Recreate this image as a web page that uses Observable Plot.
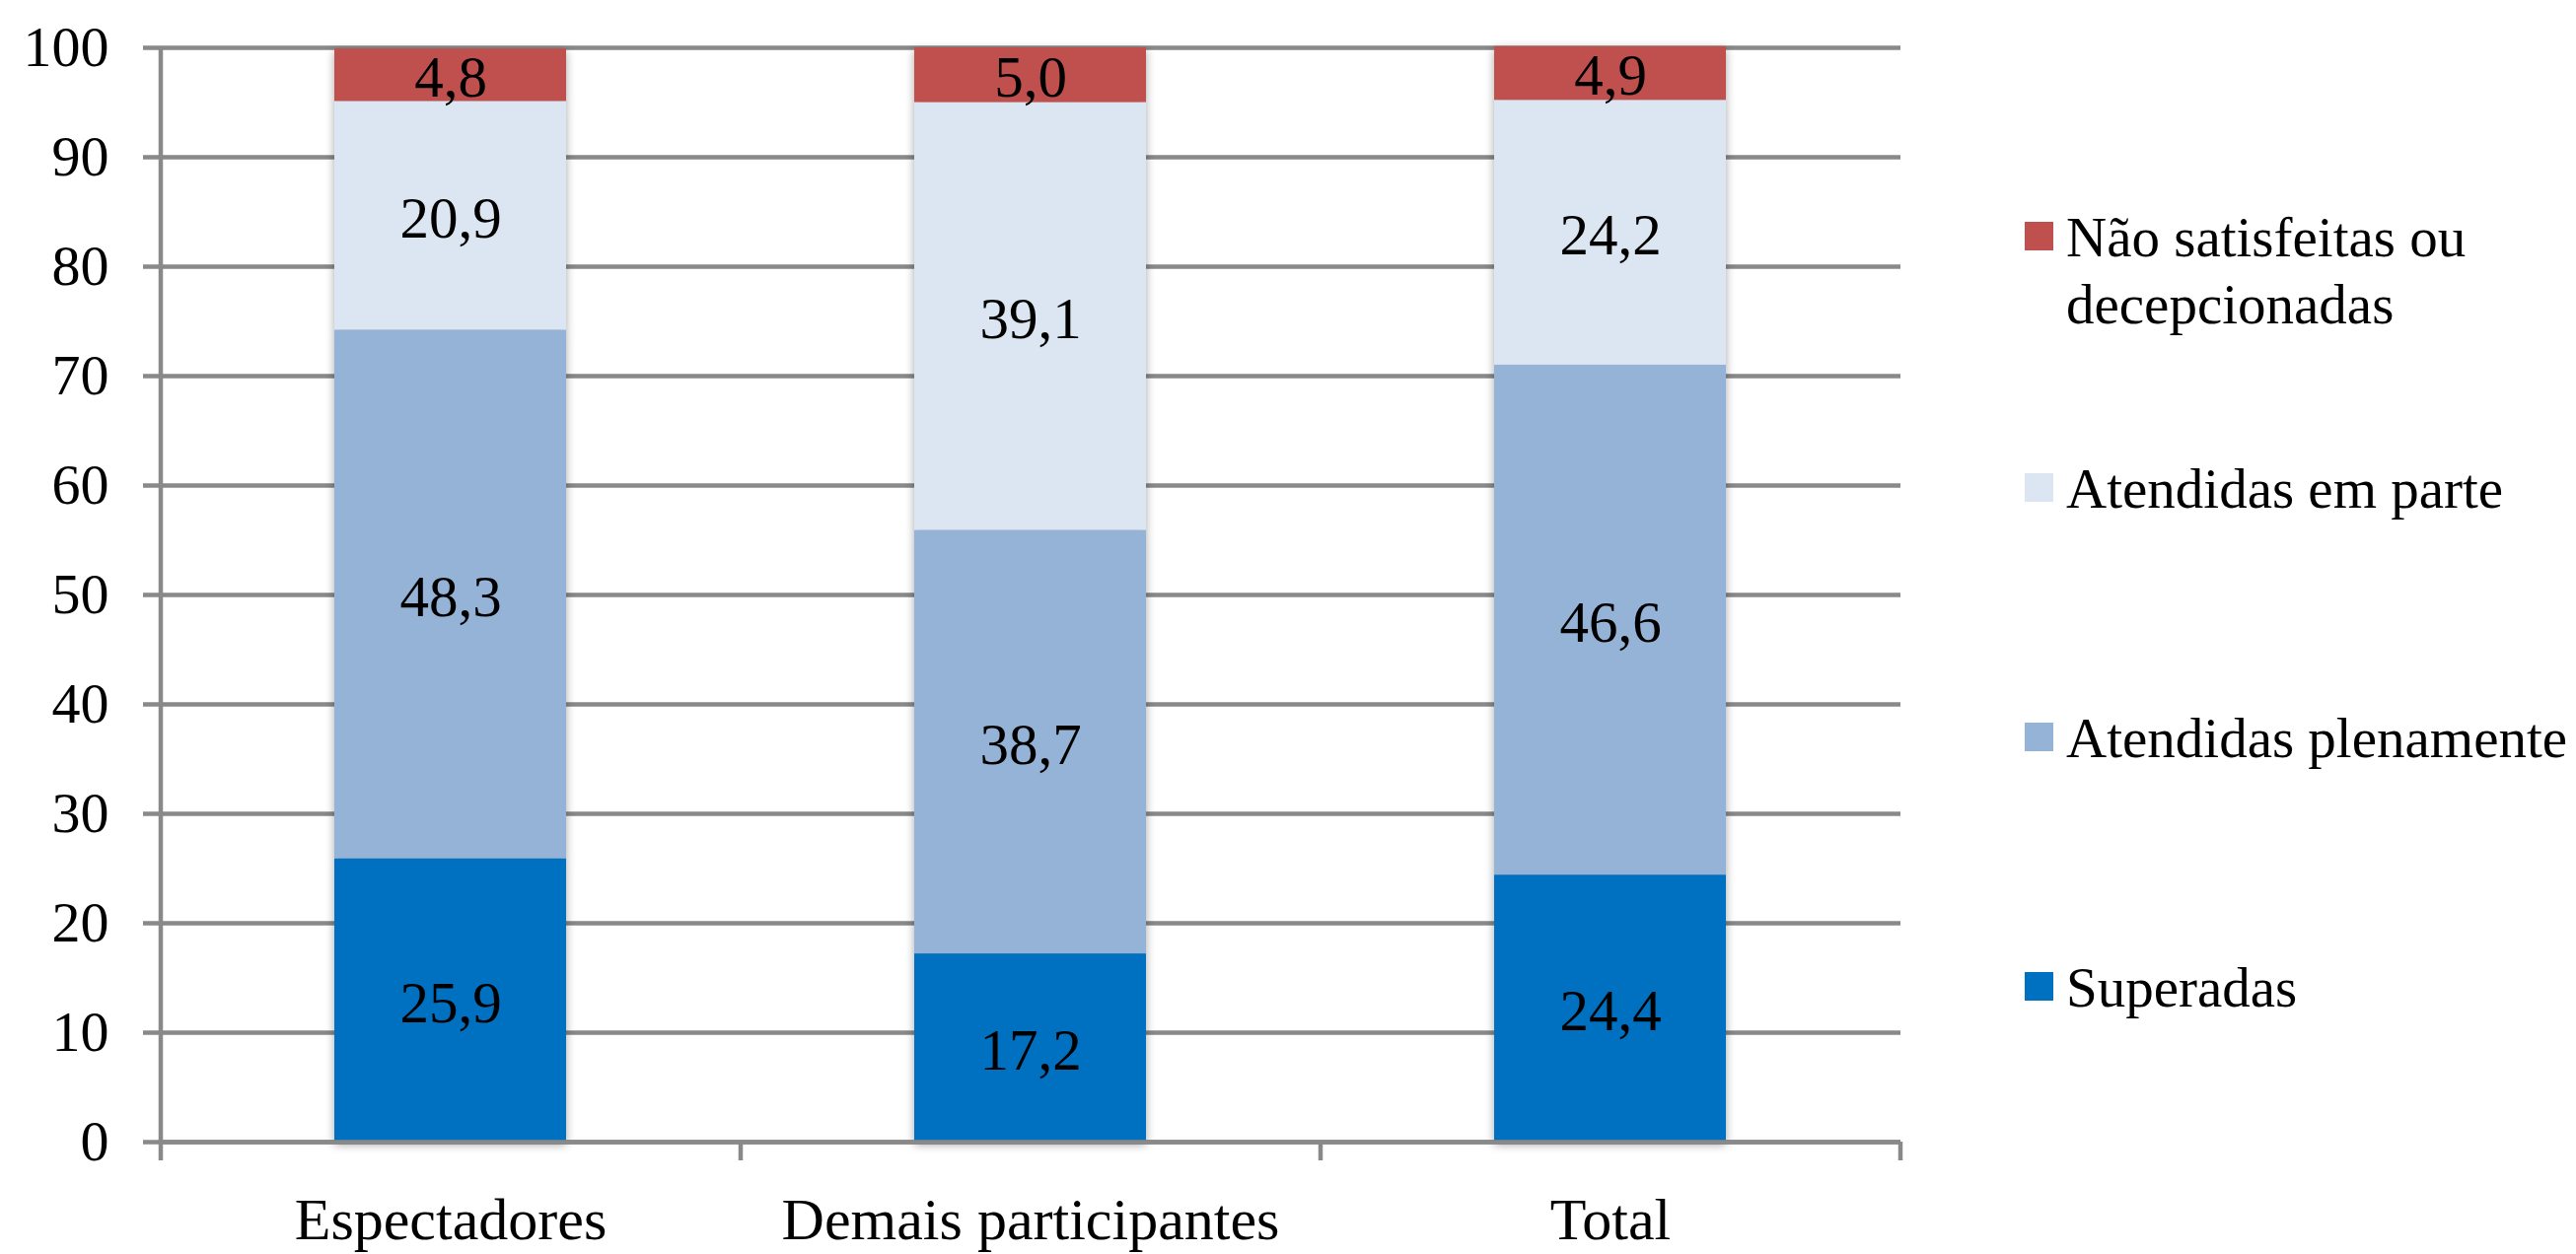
<!DOCTYPE html>
<html>
<head>
<meta charset="utf-8">
<script src="https://cdn.jsdelivr.net/npm/d3@7"></script>
<script src="https://cdn.jsdelivr.net/npm/@observablehq/plot@0.6"></script>
<style>
  html, body { margin: 0; padding: 0; background: #fff; }
  #wrap { position: relative; width: 2612px; height: 1272px; overflow: hidden; font-family: "Liberation Serif", "Times New Roman", serif; }
  .lg-sq { position: absolute; width: 29px; height: 29px; }
  .lg-tx { position: absolute; font-size: 57px; line-height: 68px; white-space: pre; color: #000; }
</style>
</head>
<body>
<div id="wrap"></div>
<script>
// ---- data ----
const categories = ["Espectadores", "Demais participantes", "Total"];
const seriesNames = ["Superadas", "Atendidas plenamente", "Atendidas em parte", "Não satisfeitas ou decepcionadas"];
const superadas   = [25.9, 17.2, 24.4];
const plenamente  = [48.3, 38.7, 46.6];
const emParte     = [20.9, 39.1, 24.2];
const naoSatisf   = [4.8, 5.0, 4.9];
const seriesColors = ["#0070C0", "#95B3D7", "#DCE6F2", "#C0504D"];
const yTicks = [0, 10, 20, 30, 40, 50, 60, 70, 80, 90, 100];
const legendOrder = ["Não satisfeitas ou decepcionadas", "Atendidas em parte", "Atendidas plenamente", "Superadas"];
const legendLabels = ["Não satisfeitas ou\ndecepcionadas", "Atendidas em parte", "Atendidas plenamente", "Superadas"];

const seriesValues = [superadas, plenamente, emParte, naoSatisf];
const rows = [];
seriesNames.forEach((s, si) => categories.forEach((c, ci) => rows.push({cat: c, series: s, value: seriesValues[si][ci]})));

// ---- layout ----
const W = 2612, H = 1272;
const mL = 163, mR = 685, mT = 48, mB = 114;
const font = "Liberation Serif, Times New Roman, serif";
const axisColor = "#898989";
const lineW = 4.5;
const step = (W - mL - mR) / categories.length;
const tickLen = 19;
const unitsPerPx = 100 / (H - mT - mB);
const below = -tickLen * unitsPerPx;

const fmt = v => v.toFixed(1).replace(".", ",");

const chart = Plot.plot({
  width: W,
  height: H,
  marginLeft: mL,
  marginRight: mR,
  marginTop: mT,
  marginBottom: mB,
  style: {fontFamily: font, background: "transparent", overflow: "visible"},
  x: {domain: categories, paddingInner: 0.6, paddingOuter: 0.3, axis: null, label: null},
  y: {domain: [0, 100], axis: null, label: null},
  color: {domain: seriesNames, range: seriesColors},
  marks: [
    Plot.gridY(yTicks, {stroke: axisColor, strokeOpacity: 1, strokeWidth: lineW}),
    Plot.axisY(yTicks, {label: null, tickSize: 18, tickPadding: 35, stroke: axisColor, strokeWidth: lineW, fill: "#000", fontSize: 58, fontFamily: font, tickFormat: d => String(d)}),
    Plot.barY(rows, {x: "cat", y: "value", fill: "series", z: "series", order: seriesNames}),
    Plot.text(rows, Plot.stackY({x: "cat", y: "value", z: "series", order: seriesNames, text: d => fmt(d.value), fontSize: 59, fontFamily: font, fill: "#000", lineAnchor: "middle", dy: 3})),
    Plot.ruleY([0], {stroke: axisColor, strokeWidth: lineW}),
    // left axis line (full height, extending below the baseline)
    Plot.ruleX([categories[0]], {x: d => d, dx: -step / 2, y1: below, y2: 100, stroke: axisColor, strokeWidth: lineW}),
    // category boundary ticks
    Plot.ruleX(categories.slice(1), {x: d => d, dx: -step / 2, y1: below, y2: 0, stroke: axisColor, strokeWidth: lineW}),
    Plot.ruleX([categories[categories.length - 1]], {x: d => d, dx: step / 2, y1: below, y2: 0, stroke: axisColor, strokeWidth: lineW}),
    Plot.axisX({label: null, tickSize: 0, tickPadding: 0, fontSize: 60, fontFamily: font, fill: "#000", dy: 56})
  ]
});

const wrap = document.getElementById("wrap");
chart.style.position = "absolute";
chart.style.left = "0px";
chart.style.top = "0px";
wrap.appendChild(chart);

const barG = chart.querySelector('g[aria-label="bar"]');
if (barG) barG.style.filter = "drop-shadow(0px 3px 5px rgba(0,0,0,0.35))";

// ---- legend ----
const legendBaselines = [260, 515, 768, 1021];
const legendX = 2053, legendTextX = 2095;
legendOrder.forEach((name, i) => {
  const col = seriesColors[seriesNames.indexOf(name)];
  const b = legendBaselines[i];
  const sq = document.createElement("div");
  sq.className = "lg-sq";
  sq.style.left = legendX + "px";
  sq.style.top = (b - 35) + "px";
  sq.style.background = col;
  wrap.appendChild(sq);
  const tx = document.createElement("div");
  tx.className = "lg-tx";
  tx.style.left = legendTextX + "px";
  tx.style.top = (b - 53) + "px";
  tx.textContent = legendLabels[i];
  wrap.appendChild(tx);
});
</script>
</body>
</html>
